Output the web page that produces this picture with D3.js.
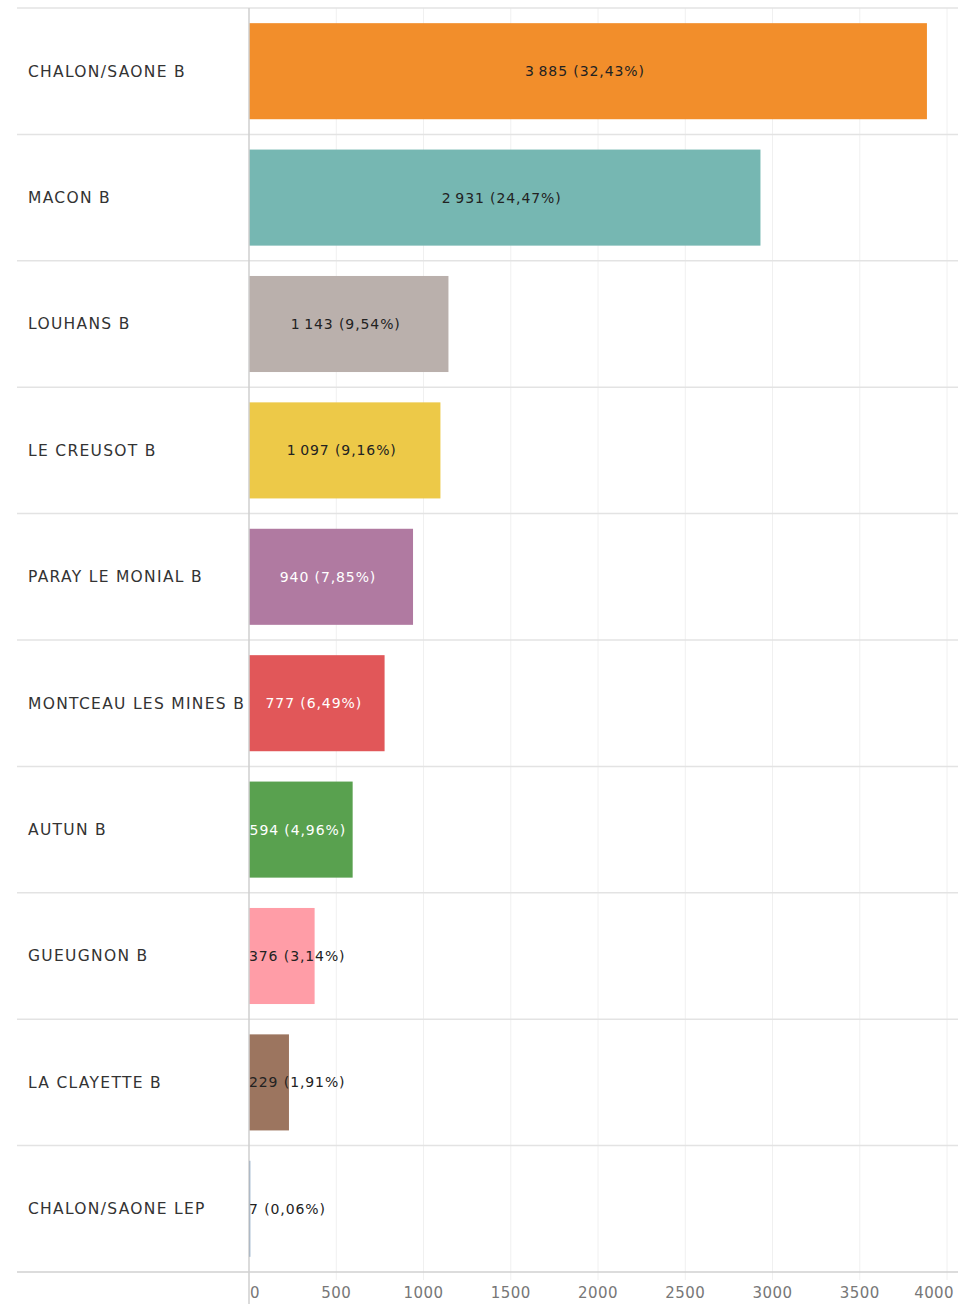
<!DOCTYPE html>
<html>
<head>
<meta charset="utf-8">
<script src="https://cdn.jsdelivr.net/npm/d3@7"></script>
<style>
  body { margin: 0; background: #fff; }
  svg text { font-family: "DejaVu Sans", sans-serif; }
</style>
</head>
<body>
<div id="chart"></div>
<script>
const w = 958;
const h = 1304;

// data
const schools = ["CHALON/SAONE B","MACON B","LOUHANS B","LE CREUSOT B","PARAY LE MONIAL B",
  "MONTCEAU LES MINES B","AUTUN B","GUEUGNON B","LA CLAYETTE B","CHALON/SAONE LEP"];
const counts = [3885, 2931, 1143, 1097, 940, 777, 594, 376, 229, 7];
const shares = ["32,43%","24,47%","9,54%","9,16%","7,85%","6,49%","4,96%","3,14%","1,91%","0,06%"];
const colors = ["#f28e2b","#76b7b2","#bab0ac","#edc948","#b07aa1","#e15759","#59a14f","#ff9da7","#9c755f","#4e79a7"];
const whiteText = [false,false,false,false,true,true,true,false,false,false];
const ticks = [0,500,1000,1500,2000,2500,3000,3500,4000];

const xLeft = 249;
const yTop = 8;
const yBottom = 1272;

const svg = d3.select("#chart").append("svg")
  .attr("width", w).attr("height", h);

const x = d3.scaleLinear().domain([0, 4000]).range([xLeft, 947]);
const y = d3.scaleBand().domain(schools).range([yTop, yBottom]).paddingInner(0.24).paddingOuter(0.12);
const row = d3.scaleBand().domain(schools).range([yTop, yBottom]);

// vertical gridlines
svg.append("g").selectAll("line")
  .data(ticks.slice(1)).enter().append("line")
  .attr("x1", d => x(d)).attr("x2", d => x(d))
  .attr("y1", yTop).attr("y2", yBottom + 8)
  .attr("stroke", "#f0f0f0").attr("stroke-width", 1);

// row separators
svg.append("g").selectAll("line")
  .data(schools).enter().append("line")
  .attr("x1", 17).attr("x2", w)
  .attr("y1", d => row(d)).attr("y2", d => row(d))
  .attr("stroke", "#e3e3e3").attr("stroke-width", 1.5);

// bars
svg.append("g").selectAll("rect")
  .data(schools).enter().append("rect")
  .attr("x", x(0))
  .attr("y", d => y(d))
  .attr("width", (d, i) => Math.max(1, x(counts[i]) - x(0)))
  .attr("height", y.bandwidth())
  .attr("fill", (d, i) => colors[i]);

// category labels
svg.append("g").selectAll("text")
  .data(schools).enter().append("text")
  .attr("x", 28)
  .attr("y", d => row(d) + row.bandwidth() / 2)
  .attr("dy", "0.35em")
  .attr("font-size", 15.5)
  .attr("letter-spacing", 1.3)
  .attr("fill", "#333")
  .text(d => d);

// value labels
svg.append("g").selectAll("text")
  .data(schools).enter().append("text")
  .attr("y", d => row(d) + row.bandwidth() / 2)
  .attr("dy", "0.35em")
  .attr("font-size", 14)
  .attr("letter-spacing", 0.9)
  .attr("fill", (d, i) => whiteText[i] ? "#fff" : "#222")
  .text((d, i) => d3.format(",")(counts[i]).replace(",", "\u2009") + " (" + shares[i] + ")")
  .each(function(d, i) {
    const tw = this.getComputedTextLength();
    const cx = (x(0) + x(counts[i])) / 2 - 3;
    d3.select(this).attr("x", Math.max(x(0), cx - tw / 2));
  });

// axis lines
svg.append("line")
  .attr("x1", xLeft).attr("x2", xLeft)
  .attr("y1", yTop).attr("y2", h)
  .attr("stroke", "#cfcfcf").attr("stroke-width", 1.5);
svg.append("line")
  .attr("x1", 17).attr("x2", w)
  .attr("y1", yBottom).attr("y2", yBottom)
  .attr("stroke", "#d0d0d0").attr("stroke-width", 1.5);

// x axis tick labels
svg.append("g").selectAll("text")
  .data(ticks).enter().append("text")
  .attr("y", 1293)
  .attr("dy", "0.35em")
  .attr("font-size", 15)
  .attr("letter-spacing", 0.4)
  .attr("fill", "#777")
  .text(d => d)
  .each(function(d) {
    const tw = this.getComputedTextLength();
    let px = x(d) - tw / 2;
    px = Math.max(xLeft + 1, Math.min(w - 4 - tw, px));
    d3.select(this).attr("x", px);
  });
</script>
</body>
</html>
